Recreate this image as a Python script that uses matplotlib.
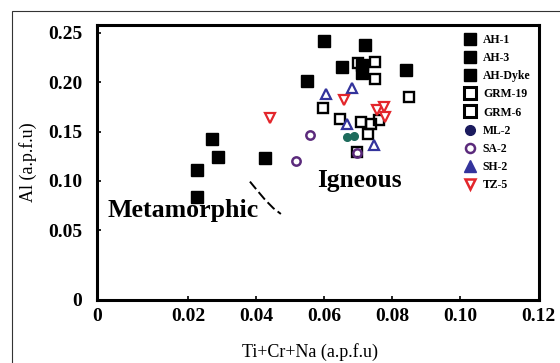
import matplotlib
matplotlib.use("Agg")
import matplotlib.pyplot as plt
from matplotlib.lines import Line2D
from matplotlib.patches import Rectangle

# Ti+Cr+Na vs Al (a.p.f.u)
ah1_x = [0.0600, 0.0720, 0.0710, 0.0710]
ah1_y = [0.2413, 0.2379, 0.2176, 0.2098]
ah3_x = [0.0651, 0.0840, 0.0548]
ah3_y = [0.2153, 0.2119, 0.2017]
ahdyke_x = [0.0269, 0.0288, 0.0426, 0.0226, 0.0226]
ahdyke_y = [0.1423, 0.1240, 0.1235, 0.1106, 0.0841]
grm19_x = [0.0700, 0.0749, 0.0749, 0.0850, 0.0597]
grm19_y = [0.2194, 0.2200, 0.2031, 0.1855, 0.1740]
grm6_x = [0.0647, 0.0709, 0.0737, 0.0762, 0.0729, 0.0696]
grm6_y = [0.1626, 0.1596, 0.1573, 0.1619, 0.1480, 0.1289]
ml2_x = [0.0666, 0.0688]
ml2_y = [0.1449, 0.1456]
sa2_x = [0.0558, 0.0517, 0.0695]
sa2_y = [0.1467, 0.1206, 0.1279]
sh2_x = [0.0605, 0.0681, 0.0668, 0.0747]
sh2_y = [0.1882, 0.1940, 0.1578, 0.1365]
tz5_x = [0.0440, 0.0658, 0.0756, 0.0776, 0.0779]
tz5_y = [0.1636, 0.1822, 0.1720, 0.1747, 0.1646]

# dashed metamorphic / igneous boundary
boundary_x = [0.0381, 0.0401, 0.0426, 0.0450, 0.0472]
boundary_y = [0.0993, 0.0909, 0.0807, 0.0723, 0.0665]

x_ticks = [0.02, 0.04, 0.06, 0.08, 0.10]
y_ticks = [0.05, 0.10, 0.15, 0.20, 0.25]

XLIM = (-0.0069, 0.1230)
YLIM = (-0.0207, 0.258)

RED = "#e3262b"
BLUE = "#33339c"
PURPLE = "#5b2a7c"
TEAL = "#1d6b5c"
NAVY = "#1b1b5e"

plt.rcParams["font.family"] = "Liberation Serif"
plt.rcParams["font.weight"] = "bold"

fig = plt.figure(figsize=(5.6, 3.63), dpi=100)
ax = fig.add_axes([97 / 560, 1 - 300 / 363, 441.5 / 560, 275 / 363])

sq = dict(ls="none", marker="s", ms=8, color="black")
ax.plot(ah1_x, ah1_y, **sq)
ax.plot(ah3_x, ah3_y, **sq)
ax.plot(ahdyke_x, ahdyke_y, **sq)
osq = dict(ls="none", marker="s", ms=6.8, mfc="none", mec="black", mew=1.7)
ax.plot(grm19_x, grm19_y, **osq)
ax.plot(grm6_x, grm6_y, **osq)
ax.plot(ml2_x, ml2_y, ls="none", marker="o", ms=5.5, color=TEAL)
ax.plot(sa2_x, sa2_y, ls="none", marker="o", ms=6, mfc="none", mec=PURPLE, mew=1.8)
ax.plot(sh2_x, sh2_y, ls="none", marker="^", ms=7, mfc="white", mec=BLUE, mew=1.6)
ax.plot(tz5_x, tz5_y, ls="none", marker="v", ms=7, mfc="white", mec=RED, mew=1.6)

ax.plot(boundary_x, boundary_y, color="black", lw=1.4, ls=(0, (5, 2)))

ax.text(0.0184, 0.0635, "Metamorphic", fontsize=18.6, ha="center", va="baseline")
ax.text(0.0703, 0.0942, "Igneous", fontsize=18.3, ha="center", va="baseline")

ax.set_xlim(*XLIM)
ax.set_ylim(*YLIM)
ax.set_xticks([XLIM[0]] + x_ticks + [XLIM[1]])
ax.set_xticklabels(["0"] + [f"{t:.2f}" for t in x_ticks] + ["0.12"])
ax.set_yticks([YLIM[0]] + y_ticks)
ax.set_yticklabels(["0"] + [f"{t:.2f}" for t in y_ticks])
ax.tick_params(axis="both", direction="in", length=3, width=1.2, labelsize=14)
ax.tick_params(axis="x", pad=6)
ax.tick_params(axis="y", pad=10.5)
for s in ax.spines.values():
    s.set_linewidth(2.2)

ax.set_xlabel("Ti+Cr+Na (a.p.f.u)", fontsize=13)
ax.set_ylabel("Al (a.p.f.u)", fontsize=13)
ax.xaxis.set_label_coords(0.482, -0.158)
ax.yaxis.set_label_coords(-0.136, 0.5)

handles = [
    Line2D([], [], ls="none", marker="s", ms=8.6, color="black", label="AH-1"),
    Line2D([], [], ls="none", marker="s", ms=8.6, color="black", label="AH-3"),
    Line2D([], [], ls="none", marker="s", ms=8.6, color="black", label="AH-Dyke"),
    Line2D([], [], ls="none", marker="s", ms=8.5, mfc="white", mec="black", mew=2.2, label="GRM-19"),
    Line2D([], [], ls="none", marker="s", ms=8.5, mfc="white", mec="black", mew=2.2, label="GRM-6"),
    Line2D([], [], ls="none", marker="o", ms=7, color=NAVY, label="ML-2"),
    Line2D([], [], ls="none", marker="o", ms=6.5, mfc="white", mec=PURPLE, mew=1.8, label="SA-2"),
    Line2D([], [], ls="none", marker="^", ms=8, color=BLUE, label="SH-2"),
    Line2D([], [], ls="none", marker="v", ms=7.5, mfc="white", mec=RED, mew=1.8, label="TZ-5"),
]
ax.legend(handles=handles, loc="upper left", bbox_to_anchor=(464 / 560, 1 - 34 / 363),
          bbox_transform=fig.transFigure, frameon=False, prop=dict(size=8.5, weight="bold"),
          handlelength=1.0, handletextpad=0.6, labelspacing=0.52, borderpad=0, borderaxespad=0)

# thin frame around the whole figure, cut by the image edge at right/bottom
fig.patches.append(Rectangle((12 / 560, -0.2), 1.2, 1.2 - 11 / 363, transform=fig.transFigure,
                             fill=False, lw=0.8, edgecolor="#333333"))

fig.savefig("out.png", dpi=100)
